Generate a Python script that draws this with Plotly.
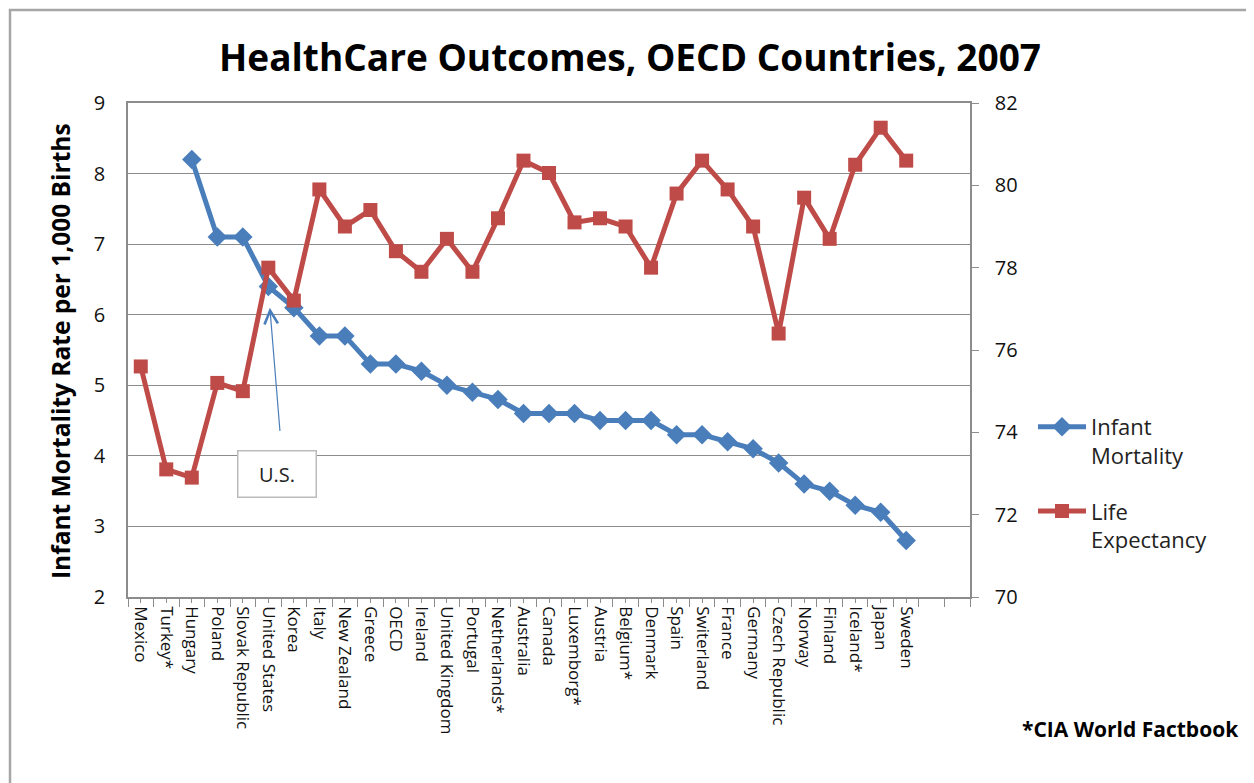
import plotly.graph_objects as go

countries = ["Mexico", "Turkey*", "Hungary", "Poland", "Slovak Republic", "United States",
             "Korea", "Italy", "New Zealand", "Greece", "OECD", "Ireland", "United Kingdom",
             "Portugal", "Netherlands*", "Australia", "Canada", "Luxemborg*", "Austria",
             "Belgium*", "Denmark", "Spain", "Switerland", "France", "Germany",
             "Czech Republic", "Norway", "Finland", "Iceland*", "Japan", "Sweden"]
infant_mortality = [None, None, 8.2, 7.1, 7.1, 6.4, 6.1, 5.7, 5.7, 5.3, 5.3, 5.2, 5.0, 4.9,
                    4.8, 4.6, 4.6, 4.6, 4.5, 4.5, 4.5, 4.3, 4.3, 4.2, 4.1, 3.9, 3.6, 3.5,
                    3.3, 3.2, 2.8]
life_expectancy = [75.6, 73.1, 72.9, 75.2, 75.0, 78.0, 77.2, 79.9, 79.0, 79.4, 78.4, 77.9,
                   78.7, 77.9, 79.2, 80.6, 80.3, 79.1, 79.2, 79.0, 78.0, 79.8, 80.6, 79.9,
                   79.0, 76.4, 79.7, 78.7, 80.5, 81.4, 80.6]
n_slots = 33  # axis has two empty category slots after Sweden

BLUE = "#4A7EBB"
RED = "#BE4B48"
GRID = "#8C8C8C"
FONT = "Open Sans"

idx = list(range(len(countries)))

fig = go.Figure()
fig.add_trace(go.Scatter(
    x=idx, y=infant_mortality, name="Infant<br>Mortality", mode="lines+markers",
    line=dict(color=BLUE, width=5), connectgaps=False, legendgroup="a",
    marker=dict(symbol="diamond", size=15, color=BLUE),
    yaxis="y"))
fig.add_trace(go.Scatter(
    x=idx, y=life_expectancy, name="Life<br>Expectancy", mode="lines+markers",
    line=dict(color=RED, width=5), legendgroup="b",
    marker=dict(symbol="square", size=14, color=RED),
    yaxis="y2"))

# page body has an 8px margin: work in screen pixels and shift
OFF = 8
W, H = 1254 - OFF, 783 - OFF
L, R, T, B = 128, 970, 103, 597  # plot area in screen pixels

def px_x(px):
    return (px - L) / (R - L)

def px_y(py):
    return (B - py) / (B - T)

fig.update_layout(
    width=W, height=H,
    margin=dict(l=L - OFF, r=W - (R - OFF), t=T - OFF, b=H - (B - OFF), pad=0),
    paper_bgcolor="white", plot_bgcolor="white",
    font=dict(family=FONT, color="#111111"),
    showlegend=True,
    legend=dict(x=px_x(1033), y=px_y(406), xanchor="left", yanchor="top",
                font=dict(size=22, family=FONT, color="#222222"),
                bgcolor="rgba(0,0,0,0)", tracegroupgap=24, itemwidth=48,
                traceorder="grouped", valign="top"),
    title=dict(text="<b>HealthCare Outcomes, OECD Countries, 2007</b>",
               x=px_x(630), xref="paper", xanchor="center",
               y=1 - (58 - OFF) / H, yref="container", yanchor="middle",
               font=dict(size=37, family=FONT, color="#000000")),
    xaxis=dict(
        range=[-0.5, n_slots - 0.5], tickmode="array", tickvals=idx, ticktext=countries,
        tickangle=90, tickfont=dict(size=17, family=FONT, color="#111111"),
        ticks="outside", ticklen=4, tickcolor=GRID, tickwidth=1,
        minor=dict(ticks="outside", ticklen=8, tickcolor=GRID, tickwidth=1,
                   tick0=0.5, dtick=1, showgrid=False),
        showline=True, linecolor=GRID, linewidth=1.5, mirror=True,
        showgrid=False, zeroline=False, fixedrange=True),
    yaxis=dict(
        range=[2, 9], dtick=1, tick0=2, showgrid=True, gridcolor=GRID, gridwidth=1,
        showline=True, linecolor=GRID, linewidth=1.5, ticks="", zeroline=False,
        tickfont=dict(size=20, family=FONT, color="#111111"), ticklabelstandoff=17),
    yaxis2=dict(
        range=[70, 82], dtick=2, tick0=70, overlaying="y", side="right",
        showgrid=False, showline=True, linecolor=GRID, linewidth=1.5,
        ticks="outside", ticklen=7, tickcolor=GRID, zeroline=False,
        tickfont=dict(size=20, family=FONT, color="#111111"), ticklabelstandoff=12),
)

fig.add_annotation(
    text="<b>Infant Mortality Rate per 1,000 Births</b>", textangle=-90,
    xref="paper", yref="paper", x=px_x(60), y=px_y(351),
    xanchor="center", yanchor="middle", showarrow=False,
    font=dict(size=24.5, family=FONT, color="#000000"))

fig.add_annotation(
    text="<b>*CIA World Factbook</b>", xref="paper", yref="paper",
    x=px_x(1241), y=px_y(729), xanchor="right", yanchor="middle", showarrow=False,
    font=dict(size=21, family=FONT, color="#000000"))

# U.S. label box
fig.add_annotation(
    text="U.S.", xref="paper", yref="paper", x=px_x(276.5), y=px_y(473.5),
    xanchor="center", yanchor="middle", showarrow=False,
    width=77, height=45, bordercolor="#BBBBBB", borderwidth=1.5, borderpad=0,
    bgcolor="white", font=dict(size=20, family=FONT, color="#222222"))

# arrow pointing to the U.S. point
fig.add_annotation(
    text="", x=5.06, y=6.1, xref="x", yref="y",
    ax=5.46, ay=4.33, axref="x", ayref="y",
    showarrow=True, arrowhead=5, arrowsize=2.2, arrowwidth=1.2, arrowcolor=BLUE)

# chart frame
fig.add_shape(type="rect", xref="paper", yref="paper",
              x0=px_x(10), x1=px_x(1250), y0=px_y(830), y1=px_y(10),
              line=dict(color="#A6A6A6", width=2.5), fillcolor="rgba(0,0,0,0)",
              layer="below")

fig.write_html("out.html")
